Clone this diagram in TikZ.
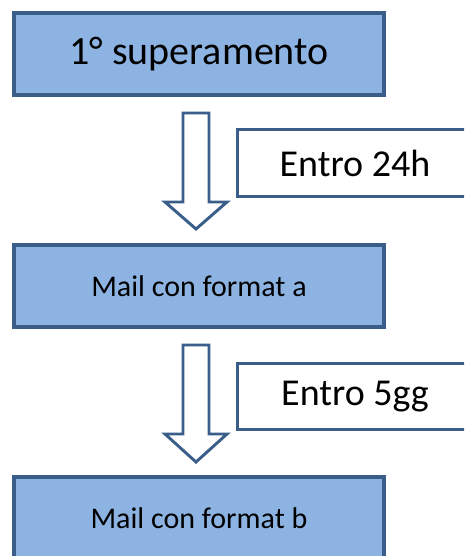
\documentclass[tikz,border=0pt]{standalone}
\usepackage{tikz}
\usepackage{fontspec}
\setmainfont{Carlito}
\definecolor{boxfill}{HTML}{8DB3E2}
\definecolor{boxline}{HTML}{3B5D8A}

\begin{document}
\begin{tikzpicture}[x=0.75pt,y=0.75pt,yscale=-1,xscale=1,
	stepbox/.style={draw=boxline,fill=boxfill,line width=3pt,minimum width=277.5pt,minimum height=61.5pt,inner sep=0pt},
	timebox/.style={draw=boxline,fill=white,line width=2.2pt,minimum width=176pt,minimum height=50pt,inner sep=0pt},
	blockarrow/.style={draw=boxline,fill=white,line width=2.2pt,line join=miter}]
			\useasboundingbox (0,0) rectangle (464,556);
			\clip (0,0) rectangle (464,556);
			\node[stepbox] (first) at (199,54) {\fontsize{30}{35}\selectfont 1° superamento};
			\node[stepbox] (mailA) at (199,286) {\fontsize{22.5}{27}\selectfont Mail con format a};
			\node[stepbox] (mailB) at (199,518) {\fontsize{22.5}{27}\selectfont Mail con format b};
			\node[timebox] (within24) at (355,163) {\fontsize{28.5}{33}\selectfont Entro 24h};
			\node[timebox] (within5) at (355,396.5) {\fontsize{28.5}{33}\selectfont Entro 5gg};
			
			\draw[blockarrow] (183,113) -- (209,113) -- (209,202) -- (227,202) -- (196,229) -- (165,202) -- (183,202) -- cycle;
			\draw[blockarrow] (183,345) -- (209,345) -- (209,434) -- (227,434) -- (196,462) -- (165,434) -- (183,434) -- cycle;
			\end{tikzpicture}
\end{document}
